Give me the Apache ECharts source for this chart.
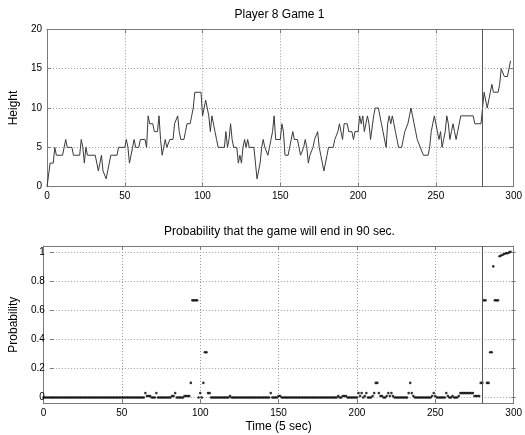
<!DOCTYPE html>
<html><head><meta charset="utf-8">
<script src="https://cdn.jsdelivr.net/npm/echarts@6/dist/echarts.min.js"></script>
<style>html,body{margin:0;padding:0;background:#fff}#c{width:525px;height:435px}</style>
</head><body><div id="c"></div>
<script>
// Top panel: vertices of the height trace (time, height)
const heightTimes = [0,1,2,4,5,6,10,11,12,13,16,17,21,22,23,24,25,26,31,32,33,34,35,36,38,39,40,41,45,46,50,51,52,53,54,55,56,57,59,60,63,64,65,66,68,69,71,72,73,74,75,76,77,78,79,81,82,83,84,85,86,88,89,90,92,93,94,95,99,100,101,102,103,104,105,106,107,108,109,110,114,115,116,117,118,119,120,122,123,124,125,126,127,128,129,130,133,134,135,136,137,138,139,140,142,143,144,145,146,147,150,151,152,153,155,156,157,158,159,161,162,163,164,165,166,167,168,169,170,171,172,174,175,176,177,178,179,180,181,184,185,187,188,189,190,191,193,194,196,197,198,200,201,202,203,204,205,206,207,208,209,210,211,213,214,215,216,217,218,219,220,221,222,223,224,225,226,228,229,230,232,233,234,235,236,237,238,239,240,241,242,245,246,247,248,249,250,251,252,253,254,255,256,257,258,259,260,261,262,263,264,265,266,274,275,279,280,281,282,283,284,285,286,287,290,291,292,293,294,296,297,298];
const heightValues = [0,0,3,3,5,4,4,5,6,5,5,4,4,6,5,3,5,4,4,3,2,3,4,2,1,2,3,4,4,5,5,6,5,3,4,5,6,5,5,6,6,5,9,8,8,7,7,9,6,4,5,6,5,5,6,6,8,8,9,7,6,6,7,8,8,9,10,12,12,9,10,11,11,9,7,9,8,7,6,5,5,7,5,6,8,6,5,5,3,4,3,5,6,5,6,5,5,3,1,2,3,5,6,5,4,5,6,7,9,6,6,8,7,4,4,5,6,7,6,6,5,4,4,5,6,5,3,4,4,5,6,7,5,4,3,2,3,4,5,5,6,7,8,7,6,8,8,7,7,6,7,7,9,8,9,7,8,9,8,6,6,9,10,10,9,8,7,7,5,8,9,8,9,8,7,6,5,5,6,7,8,9,10,9,8,7,6,6,5,5,4,4,5,7,8,9,8,7,6,7,5,6,7,9,8,6,7,8,7,6,7,8,9,9,8,8,10,12,12,10,11,12,13,12,12,13,15,15,14,14,15,16];

// Bottom panel: probability for each sample, time = index (0..298)
const probValues = [
0,0,0,0,0,0,0,0,0,0,
0,0,0,0,0,0,0,0,0,0,
0,0,0,0,0,0,0,0,0,0,
0,0,0,0,0,0,0,0,0,0,
0,0,0,0,0,0,0,0,0,0,
0,0,0,0,0,0,0,0,0,0,
0,0,0,0,0,0.03,0.01,0.01,0.01,0,
0,0,0.03,0,0,0,0,0,0,0,
0,0,0.01,0.01,0.03,0,0,0,0,0,
0.01,0.01,0.01,0.01,0.1,0.667,0.667,0.667,0.667,0,
0.03,0,0.1,0.31,0.31,0.03,0.03,0,0,0,
0,0,0,0,0,0,0,0,0,0.01,
0,0,0,0,0,0,0,0,0,0,
0,0,0,0,0,0,0,0,0,0,
0,0,0,0,0,0.03,0,0,0,0,
0.01,0.01,0,0,0,0,0,0,0,0,
0,0,0,0,0,0,0,0,0,0,
0,0,0,0,0,0,0,0,0,0,
0,0,0,0,0,0,0,0,0.01,0,
0,0.01,0.01,0.01,0,0,0,0,0,0,
0,0.03,0.01,0.03,0,0.01,0.03,0,0,0,
0.01,0.03,0.1,0.1,0.03,0.01,0.01,0,0,0.01,
0.03,0.01,0.03,0.01,0,0,0,0,0,0,
0,0,0,0.03,0.1,0.03,0.01,0,0,0,
0,0,0,0,0,0,0,0,0.01,0.03,
0.01,0,0,0,0,0,0,0.03,0.01,0,
0,0.01,0,0,0,0.01,0.03,0.03,0.03,0.03,
0.03,0.03,0.03,0.03,0.03,0.01,0.01,0.01,0.01,0.1,
0.1,0.667,0.667,0.1,0.1,0.31,0.31,0.9,0.667,0.667,
0.667,0.97,0.975,0.98,0.985,0.99,0.99,0.995,1.0
];

const markerTime = 280;
const xRange = [0, 300], xStep = 50;
const heightRange = [0, 20], heightStep = 5;
const probRange = [0, 1], probStep = 0.2;
const probPad = 0.04;

const titleTop = 'Player 8 Game 1';
const titleBottom = 'Probability that the game will end in 90 sec.';
const nameHeight = 'Height';
const nameProb = 'Probability';
const nameTime = 'Time (5 sec)';

const FONT = '"Liberation Sans", Arial, Helvetica, sans-serif';
const axisColor = '#7a7a7a';
const gridColor = '#9a9a9a';

const L = 43.5, W = 472;
const g0 = {top: 29.3, height: 157.4};
const g1 = {top: 246, height: 157.3};
const span = (probRange[1] - probRange[0]) + 2 * probPad;
const g2 = {top: g1.top + g1.height * probPad / span, height: g1.height * (probRange[1]-probRange[0]) / span};

const lbl = {fontSize: 10, color: '#000', fontFamily: FONT};
const tick = {show: true, inside: true, length: 4, lineStyle: {color: axisColor, width: 1}};
const aLine = {show: true, onZero: false, lineStyle: {color: axisColor, width: 1}};
const split = {show: true, lineStyle: {type: [1, 2], color: gridColor, width: 1}};

function xAx(gi, pos, labels, extra) {
  return Object.assign({
    gridIndex: gi, type: 'value', position: pos, min: xRange[0], max: xRange[1], interval: xStep,
    axisLine: aLine, axisTick: tick,
    axisLabel: Object.assign({show: labels, margin: 5}, lbl),
    splitLine: labels ? split : {show: false}
  }, extra || {});
}
function yAx(gi, pos, range, step, labels, extra) {
  return Object.assign({
    gridIndex: gi, type: 'value', position: pos, min: range[0], max: range[1], interval: step,
    axisLine: aLine, axisTick: tick,
    axisLabel: Object.assign({show: labels, margin: 5}, lbl),
    splitLine: labels ? split : {show: false}
  }, extra || {});
}

const nameStyle = {fontSize: 12, color: '#000', fontFamily: FONT};

const option = {
  animation: false,
  backgroundColor: '#fff',
  title: [
    {text: titleTop, left: L + W/2, top: 9, padding: 0, textAlign: 'center',
     textStyle: {fontSize: 12, fontWeight: 'normal', color: '#000', fontFamily: FONT}},
    {text: titleBottom, left: L + W/2, top: 226, padding: 0, textAlign: 'center',
     textStyle: {fontSize: 12, fontWeight: 'normal', color: '#000', fontFamily: FONT}}
  ],
  grid: [
    {left: L, width: W, top: g0.top, height: g0.height},
    {left: L, width: W, top: g1.top, height: g1.height},
    {left: L, width: W, top: g2.top, height: g2.height}
  ],
  xAxis: [
    xAx(0, 'bottom', true),
    xAx(0, 'top', false),
    xAx(1, 'bottom', true, {name: nameTime, nameLocation: 'middle', nameGap: 17, nameTextStyle: nameStyle}),
    xAx(1, 'top', false),
    {gridIndex: 2, type: 'value', min: xRange[0], max: xRange[1], show: false}
  ],
  yAxis: [
    yAx(0, 'left', heightRange, heightStep, true, {name: nameHeight, nameLocation: 'middle', nameGap: 24, nameTextStyle: nameStyle}),
    yAx(0, 'right', heightRange, heightStep, false),
    {gridIndex: 1, type: 'value', position: 'left', min: probRange[0]-probPad, max: probRange[1]+probPad,
     axisLine: aLine, axisTick: {show: false}, axisLabel: {show: false}, splitLine: {show: false}},
    {gridIndex: 1, type: 'value', position: 'right', min: probRange[0]-probPad, max: probRange[1]+probPad,
     axisLine: aLine, axisTick: {show: false}, axisLabel: {show: false}, splitLine: {show: false}},
    yAx(2, 'left', probRange, probStep, true, {axisLine: {show: false, onZero: false}, name: nameProb, nameLocation: 'middle', nameGap: 26, nameTextStyle: nameStyle}),
    yAx(2, 'right', probRange, probStep, false, {axisLine: {show: false, onZero: false}})
  ],
  series: [
    {
      type: 'line', xAxisIndex: 0, yAxisIndex: 0,
      data: heightTimes.map((t, i) => [t, heightValues[i]]),
      showSymbol: false, symbol: 'none',
      lineStyle: {color: '#3a3a3a', width: 1},
      markLine: {silent: true, symbol: 'none', label: {show: false},
        lineStyle: {color: '#555', width: 1, type: 'solid'}, data: [{xAxis: markerTime}]}
    },
    {
      type: 'scatter', xAxisIndex: 2, yAxisIndex: 2,
      data: probValues.map((v, i) => [i, v]),
      symbol: 'circle', symbolSize: 2.6,
      itemStyle: {color: '#000'},
      markLine: {silent: true, symbol: 'none', label: {show: false},
        lineStyle: {color: '#555', width: 1, type: 'solid'}, data: [{xAxis: markerTime}]}
    }
  ]
};

const chart = echarts.init(document.getElementById('c'), null, {renderer: 'canvas'});
chart.setOption(option);
</script>
</body></html>
